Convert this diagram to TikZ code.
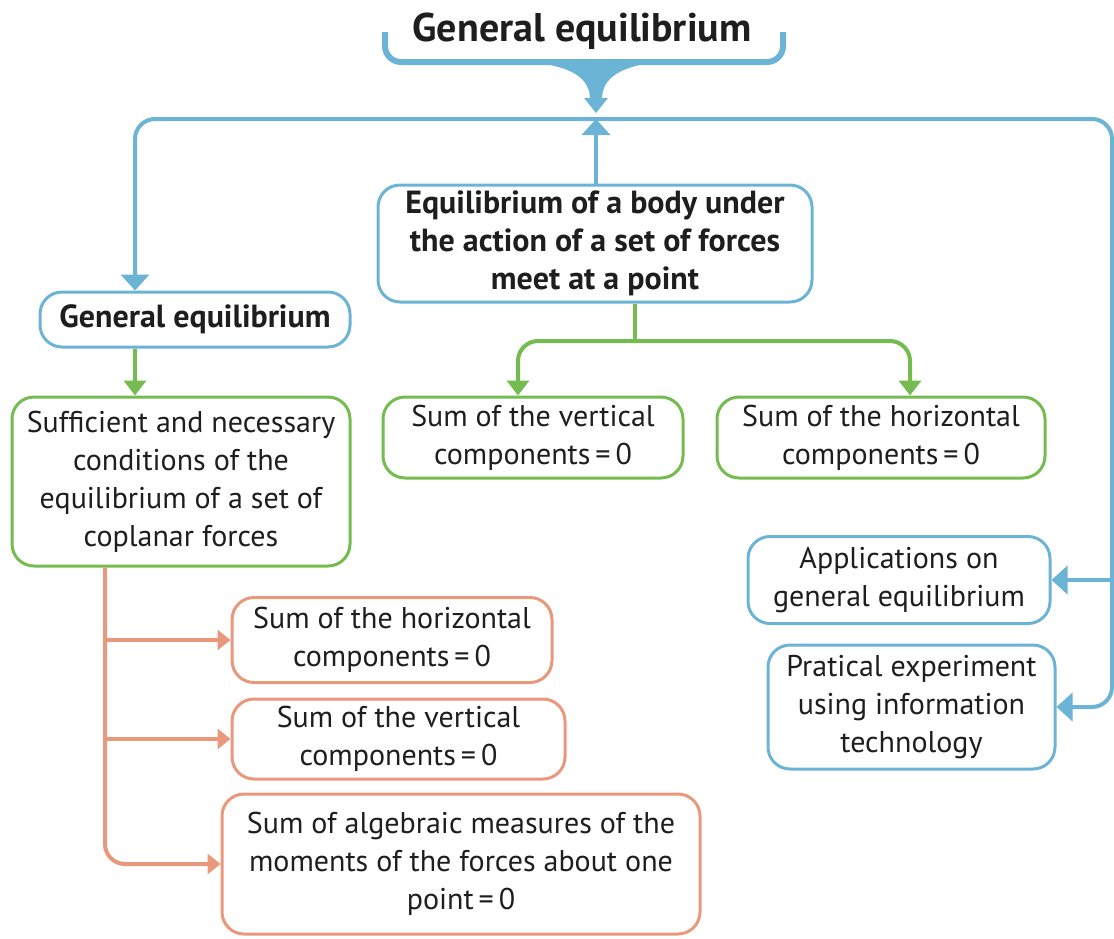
\documentclass[tikz,border=0pt]{standalone}
\usepackage{fontspec}
\setmainfont{PT Sans}
\usetikzlibrary{arrows.meta,positioning,calc}
\definecolor{mapblue}{RGB}{108,180,214}
\definecolor{mapgreen}{RGB}{116,188,80}
\definecolor{maporange}{RGB}{234,152,124}
\definecolor{maptext}{RGB}{30,30,30}

\begin{document}
\begin{tikzpicture}[
    x=0.5pt, y=-0.5pt,
    box/.style={draw, line width=1.5pt, rounded corners=11pt, fill=white, align=center,
                text=maptext, font=\fontsize{15}{19}\selectfont, inner sep=2pt},
    bluebox/.style={box, draw=mapblue},
    greenbox/.style={box, draw=mapgreen},
    orangebox/.style={box, draw=maporange},
    heavy/.style={font=\fontsize{16}{19}\selectfont\bfseries},
    link/.style={line width=2pt, -{Triangle[width=11pt,length=7.5pt]}},
    blink/.style={link, mapblue, -{Triangle[width=14pt,length=8pt]}},
    glink/.style={link, mapgreen},
    olink/.style={link, maporange, -{Triangle[width=10pt,length=6.5pt]}}
]
\useasboundingbox (0,0) rectangle (1114,938);

% Title and bracket
\node[text=maptext, font=\fontsize{20}{24}\selectfont\bfseries] (title) at (582,31) {General equilibrium};
\draw[mapblue, line width=3pt, rounded corners=8pt] (385,32) -- (385,62) -- (783,62) -- (783,32);
\fill[mapblue] (513,60) .. controls (565,64) and (589,74) .. (590,98) -- (602,98)
    .. controls (603,74) and (627,64) .. (673,60) -- cycle;
\fill[mapblue] (584,98) -- (608,98) -- (596,113) -- cycle;

% Entities
\node[bluebox, heavy, minimum width=155pt, minimum height=27.5pt] (gen) at (195,319.5) {General equilibrium};
\node[bluebox, heavy, minimum width=217pt, minimum height=58.5pt] (body) at (595,243.5)
    {Equilibrium of a body under\\the action of a set of forces\\meet at a point};
\node[greenbox, minimum width=169pt, minimum height=84.5pt] (cond) at (181,481.5)
    {Sufficient and necessary\\conditions of the\\equilibrium of a set of\\coplanar forces};
\node[greenbox, minimum width=150pt, minimum height=40.5pt] (vert) at (533,437.5)
    {Sum of the vertical\\components\,=\,0};
\node[greenbox, minimum width=164pt, minimum height=40.5pt] (horiz) at (881,437.5)
    {Sum of the horizontal\\components\,=\,0};
\node[bluebox, minimum width=151pt, minimum height=43.5pt] (appl) at (899,580)
    {Applications on\\general equilibrium};
\node[bluebox, minimum width=143.5pt, minimum height=62pt] (expt) at (911.5,707)
    {Pratical experiment\\using information\\technology};
\node[orangebox, minimum width=160pt, minimum height=42.5pt] (ohor) at (392,640)
    {Sum of the horizontal\\components\,=\,0};
\node[orangebox, minimum width=166.5pt, minimum height=40pt] (over) at (398.5,739)
    {Sum of the vertical\\components\,=\,0};
\node[orangebox, minimum width=239pt, minimum height=70pt] (omom) at (461,864)
    {Sum of algebraic measures of the\\moments of the forces about one\\point\,=\,0};

% Rails
\coordinate (hub) at (596,119);
\coordinate (rail) at (1112,119);
\coordinate (lx) at (135,0);
\coordinate (gfork) at (635,341);
\coordinate (ox) at (105,0);

% Blue connectors
\draw[blink] (body.north -| hub) -- (hub);
\draw[blink, rounded corners=10pt] (hub) -| (gen.north -| lx);
\draw[blink, rounded corners=10pt] (hub) -- (rail) |- (expt.east);
\draw[blink] (rail |- appl.east) -- (appl.east);

% Green connectors
\draw[glink] (gen.south -| lx) -- (cond.north -| lx);
\draw[mapgreen, line width=2pt] (body.south -| gfork) -- (gfork);
\draw[glink, rounded corners=10pt] (gfork) -| ([xshift=-7.5pt]vert.north);
\draw[glink, rounded corners=10pt] (gfork) -| ([xshift=14.5pt]horiz.north);

% Orange connectors
\draw[olink] (cond.south -| ox) |- (ohor.west);
\draw[olink] (cond.south -| ox) |- (over.west);
\draw[olink, rounded corners=10pt] (cond.south -| ox) |- (omom.west);

\end{tikzpicture}
\end{document}
